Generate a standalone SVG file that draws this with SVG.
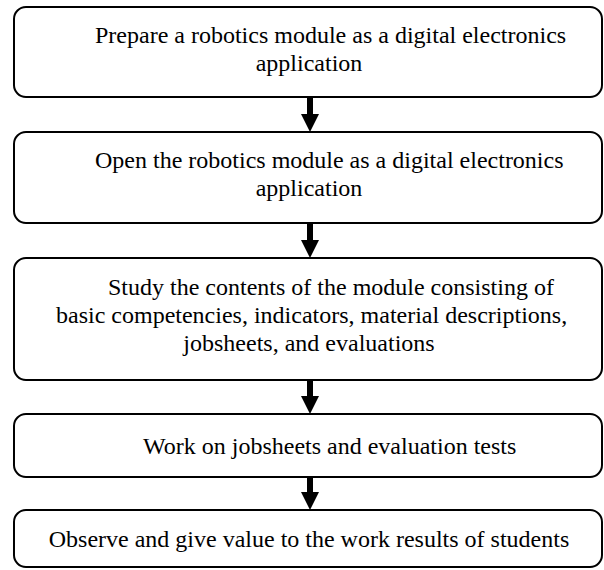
<svg xmlns="http://www.w3.org/2000/svg" width="604" height="570" viewBox="0 0 604 570">
<style>
.box{fill:#fff;stroke:#000;stroke-width:2}
.t{font-family:"Liberation Serif","Times New Roman",serif;font-size:24px;fill:#000}
.m{text-anchor:middle}
.c{stroke:#000;stroke-width:6;fill:none}
</style>
<defs>
<marker id="ah" markerUnits="userSpaceOnUse" markerWidth="18" markerHeight="18" viewBox="0 0 18 18" refX="0" refY="9" orient="auto">
<path d="M0,0 L18,9 L0,18 Z" fill="#000"/>
</marker>
</defs>
<rect width="604" height="570" fill="#fff"/>
<g id="connectors">
<line class="c" x1="310" y1="98" x2="310" y2="114" marker-end="url(#ah)"/>
<line class="c" x1="310" y1="224" x2="310" y2="240" marker-end="url(#ah)"/>
<line class="c" x1="310" y1="381" x2="310" y2="396" marker-end="url(#ah)"/>
<line class="c" x1="310" y1="478" x2="310" y2="492" marker-end="url(#ah)"/>
</g>
<g id="n1">
<rect class="box" x="14" y="7" width="588" height="90" rx="12"/>
<text class="t" x="95" y="43">Prepare a robotics module as a digital electronics</text>
<text class="t m" x="309" y="71">application</text>
</g>
<g id="n2">
<rect class="box" x="14" y="132" width="588" height="91" rx="12"/>
<text class="t" x="95" y="168">Open the robotics module as a digital electronics</text>
<text class="t m" x="309" y="196">application</text>
</g>
<g id="n3">
<rect class="box" x="14" y="258" width="588" height="122" rx="12"/>
<text class="t" x="108" y="295">Study the contents of the module consisting of</text>
<text class="t" x="56" y="323">basic competencies, indicators, material descriptions,</text>
<text class="t m" x="309" y="351">jobsheets, and evaluations</text>
</g>
<g id="n4">
<rect class="box" x="14" y="414" width="588" height="63" rx="12"/>
<text class="t" x="143" y="454">Work on jobsheets and evaluation tests</text>
</g>
<g id="n5">
<rect class="box" x="14" y="510" width="588" height="57" rx="12"/>
<text class="t m" x="309" y="547">Observe and give value to the work results of students</text>
</g>
</svg>
